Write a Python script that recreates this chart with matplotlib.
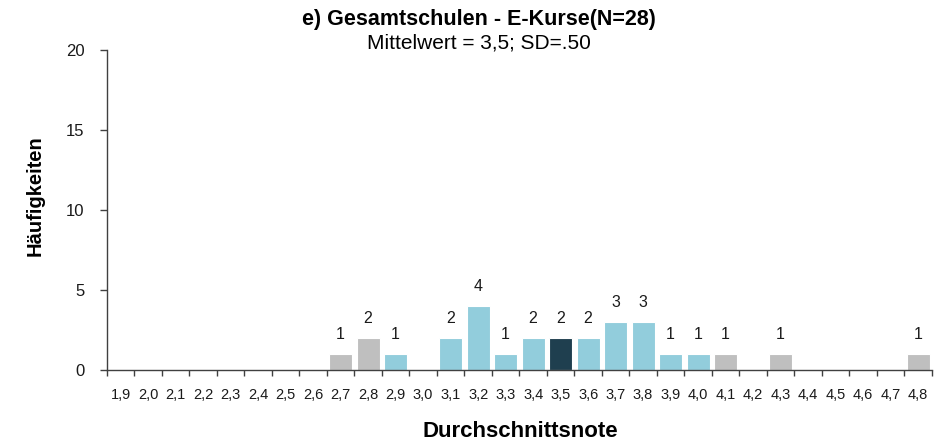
import matplotlib
matplotlib.use("Agg")
import matplotlib.pyplot as plt
import numpy as np

plt.rcParams['font.family'] = ['Liberation Sans', 'DejaVu Sans']

categories = ["1,9","2,0","2,1","2,2","2,3","2,4","2,5","2,6","2,7","2,8","2,9","3,0",
              "3,1","3,2","3,3","3,4","3,5","3,6","3,7","3,8","3,9","4,0","4,1","4,2",
              "4,3","4,4","4,5","4,6","4,7","4,8"]
counts = [0,0,0,0,0,0,0,0,1,2,1,0,2,4,1,2,2,2,3,3,1,1,1,0,1,0,0,0,0,1]
groups = ["o","o","o","o","o","o","o","o","o","o","m","m","m","m","m","m","x","m","m","m",
          "m","m","o","o","o","o","o","o","o","o"]
color_map = {"o": "#BFBFBF", "m": "#92CDDC", "x": "#1F3F4F"}
axis_col = "#404040"
text_col = "#1A1A1A"

fig = plt.figure(figsize=(9.46, 4.43), dpi=100)
ax = fig.add_axes([0.113, 0.1648, 0.872, 0.722])

x = np.arange(len(categories))
cols = [color_map[g] for g in groups]
ax.bar(x, counts, width=0.84, color=cols, edgecolor="white", linewidth=0.8, zorder=2)
for xi, c in zip(x, counts):
    if c > 0:
        ax.annotate(str(c), (xi, c), xytext=(0, 9), textcoords="offset points",
                    ha="center", va="bottom", fontsize=11.5, color=text_col)

ax.set_xlim(-0.5, len(categories) - 0.5)
ax.set_ylim(0, 20)
ax.set_yticks([0, 5, 10, 15, 20])
ax.set_yticklabels(["0", "5", "10", "15", "20"], fontsize=12, color=text_col)
ax.set_xticks(x)
ax.set_xticklabels(categories, fontsize=10.5, color=text_col)
ax.set_xticks(np.arange(-0.5, len(categories)), minor=True)
ax.tick_params(axis="x", which="major", length=0, pad=13)
ax.tick_params(axis="x", which="minor", length=4, width=1.0, color=axis_col)
ax.tick_params(axis="y", length=5, width=1.0, pad=11, color=axis_col)
for s in ["top", "right"]:
    ax.spines[s].set_visible(False)
for s in ["left", "bottom"]:
    ax.spines[s].set_linewidth(1.0)
    ax.spines[s].set_color(axis_col)

fig.text(0.506, 0.955, "e) Gesamtschulen - E-Kurse(N=28)", ha="center", va="center",
         fontsize=15.5, fontweight="bold", color="#000000")
fig.text(0.506, 0.902, "Mittelwert = 3,5; SD=.50", ha="center", va="center",
         fontsize=15, color="#000000")
fig.text(0.037, 0.558, "Häufigkeiten", rotation=90, ha="center", va="center",
         fontsize=14.5, fontweight="bold", color="#000000")
fig.text(0.55, 0.025, "Durchschnittsnote", ha="center", va="center",
         fontsize=16, fontweight="bold", color="#000000")

fig.savefig("out.png", dpi=100)
